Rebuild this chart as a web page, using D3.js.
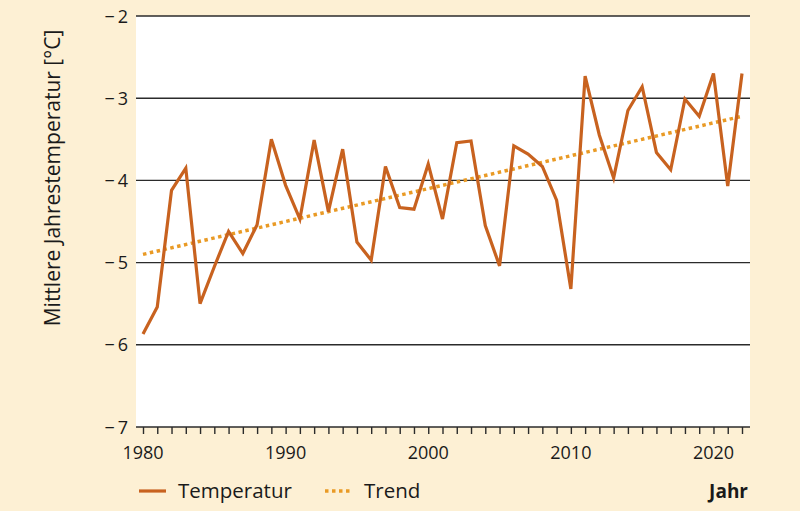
<!DOCTYPE html>
<html>
<head>
<meta charset="utf-8">
<script src="https://cdn.jsdelivr.net/npm/d3@7"></script>
<style>
	body { margin: 0; background: #fdf0d4; }
	svg { display: block; font-family: "Open Sans", sans-serif; }
</style>
</head>
<body>
<svg id="chart" width="800" height="511"></svg>
<script>
"use strict";

// mean annual temperature per year
var years = [1980,1981,1982,1983,1984,1985,1986,1987,1988,1989,
	1990,1991,1992,1993,1994,1995,1996,1997,1998,1999,
	2000,2001,2002,2003,2004,2005,2006,2007,2008,2009,
	2010,2011,2012,2013,2014,2015,2016,2017,2018,2019,
	2020,2021,2022];
var temps = [-5.87,-5.54,-4.12,-3.85,-5.50,-5.05,-4.62,-4.89,-4.54,-3.50,
	-4.06,-4.47,-3.51,-4.38,-3.62,-4.75,-4.97,-3.83,-4.33,-4.35,
	-3.80,-4.47,-3.54,-3.52,-4.55,-5.04,-3.58,-3.68,-3.83,-4.24,
	-5.32,-2.73,-3.45,-3.97,-3.15,-2.86,-3.66,-3.87,-3.01,-3.22,
	-2.70,-4.07,-2.70];

// trend line end points
var trendYears = [1980, 2022];
var trendTemps = [-4.90, -3.22];

var yTicks = [-2,-3,-4,-5,-6,-7];
var xLabels = [1980,1990,2000,2010,2020];

var svg = d3.select("#chart");

var x = d3.scaleLinear().domain([1980, 2022]).range([143, 742]);
var y = d3.scaleLinear().domain([-7, -2]).range([427, 16]);

// plot area
svg.append("rect")
	.attr("x", 136).attr("y", 16)
	.attr("width", 750-136).attr("height", 427-16)
	.style("fill", "white");

// gridlines
svg.selectAll(".grid")
	.data(yTicks.filter(function(d){ return d > -7; }))
  .enter().append("line")
	.attr("x1", 136).attr("x2", 750)
	.attr("y1", function(d){ return y(d); })
	.attr("y2", function(d){ return y(d); })
	.style("stroke", "#2b2b2b")
	.style("stroke-width", 1.4);

// y tick labels
svg.selectAll(".ylab")
	.data(yTicks)
  .enter().append("text")
	.attr("x", 128)
	.attr("y", function(d){ return y(d) + 6.5; })
	.attr("text-anchor", "end")
	.style("font-size", "18px")
	.style("fill", "#1a1a1a")
	.text(function(d){ return "\u2212\u2009" + Math.abs(d); });

// x axis
var xAxis = d3.axisBottom(x)
	.tickValues(years)
	.tickSize(7)
	.tickFormat("");
var gx = svg.append("g")
	.attr("transform", "translate(0,427)")
	.call(xAxis);
gx.select(".domain").remove();
gx.selectAll(".tick line").style("stroke", "#2b2b2b").style("stroke-width", 1.4);
gx.append("line")
	.attr("x1", 136).attr("x2", 750)
	.style("stroke", "#2b2b2b")
	.style("stroke-width", 1.4);

svg.selectAll(".xlab")
	.data(xLabels)
  .enter().append("text")
	.attr("x", function(d){ return x(d); })
	.attr("y", 459)
	.attr("text-anchor", "middle")
	.style("font-size", "18px")
	.style("fill", "#1a1a1a")
	.text(function(d){ return d; });

// y axis title
svg.append("text")
	.attr("transform", "translate(60,178),rotate(-90)")
	.attr("text-anchor", "middle")
	.style("font-size", "21px")
	.style("fill", "#1a1a1a")
	.text("Mittlere Jahrestemperatur [\u00b0C]");

// trend
var trendData = trendYears.map(function(d, i){ return {x: d, y: trendTemps[i]}; });
svg.append("path")
	.datum(trendData)
	.attr("d", d3.line().x(function(d){ return x(d.x); }).y(function(d){ return y(d.y); }))
	.style("fill", "none")
	.style("stroke", "#e99a25")
	.style("stroke-width", 3.5)
	.style("stroke-dasharray", "3.5,3.5");

// temperature line
var tempData = years.map(function(d, i){ return {x: d, y: temps[i]}; });
svg.append("path")
	.datum(tempData)
	.attr("d", d3.line().x(function(d){ return x(d.x); }).y(function(d){ return y(d.y); }))
	.style("fill", "none")
	.style("stroke", "#c8621f")
	.style("stroke-width", 3.2)
	.style("stroke-linejoin", "miter");

// legend
svg.append("line")
	.attr("x1", 139).attr("x2", 166)
	.attr("y1", 491).attr("y2", 491)
	.style("stroke", "#c8621f")
	.style("stroke-width", 3.2);
svg.append("text")
	.attr("x", 178).attr("y", 498)
	.style("font-size", "20.5px")
	.style("fill", "#1a1a1a")
	.text("Temperatur");
svg.append("line")
	.attr("x1", 325).attr("x2", 353)
	.attr("y1", 491).attr("y2", 491)
	.style("stroke", "#e99a25")
	.style("stroke-width", 3.5)
	.style("stroke-dasharray", "3.5,3.5");
svg.append("text")
	.attr("x", 364).attr("y", 498)
	.style("font-size", "20.5px")
	.style("fill", "#1a1a1a")
	.text("Trend");
svg.append("text")
	.attr("x", 748).attr("y", 498)
	.attr("text-anchor", "end")
	.style("font-size", "19px")
	.style("font-weight", "bold")
	.style("fill", "#1a1a1a")
	.text("Jahr");
</script>
</body>
</html>
